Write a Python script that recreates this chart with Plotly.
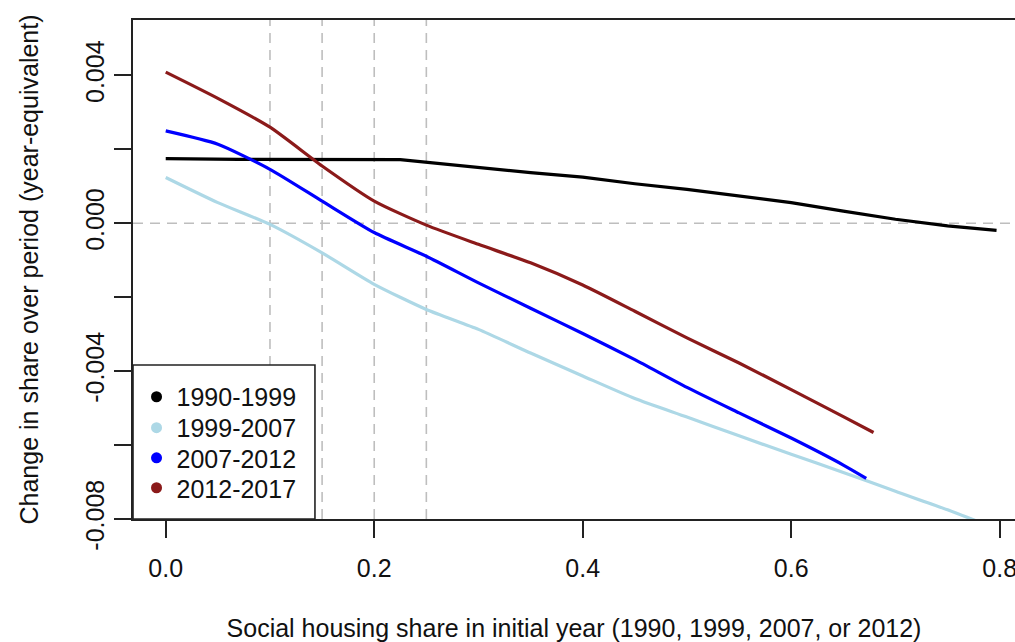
import plotly.graph_objects as go

# ---- data ----
x_1990 = [0.0, 0.065, 0.07, 0.225, 0.25, 0.3, 0.35, 0.4, 0.45, 0.5, 0.55, 0.6, 0.65, 0.7, 0.75, 0.797]
y_1990 = [0.00175, 0.00175, 0.00173, 0.00172, 0.00165, 0.00149, 0.00137, 0.00125, 0.00107, 0.00092,
          0.00074, 0.00056, 0.00033, 0.00011, -0.00007, -0.00019]

x_1999 = [0.0, 0.05, 0.1, 0.15, 0.2, 0.25, 0.3, 0.35, 0.4, 0.45, 0.5, 0.55, 0.6, 0.65, 0.7, 0.75, 0.8]
y_1999 = [0.00124, 0.00056, -0.00003, -0.0008, -0.00165, -0.00233, -0.00287, -0.00351, -0.00413,
          -0.00474, -0.00524, -0.00575, -0.00625, -0.00674, -0.00725, -0.00775, -0.0083]

x_2007 = [0.0, 0.05, 0.1, 0.15, 0.2, 0.25, 0.3, 0.35, 0.4, 0.45, 0.5, 0.55, 0.6, 0.65, 0.672]
y_2007 = [0.0025, 0.00214, 0.00146, 0.0006, -0.00025, -0.00089, -0.00161, -0.0023, -0.00298,
          -0.00369, -0.00444, -0.00513, -0.00581, -0.00654, -0.0069]

x_2012 = [0.0, 0.05, 0.1, 0.15, 0.2, 0.25, 0.3, 0.35, 0.4, 0.45, 0.5, 0.55, 0.6, 0.65, 0.679]
y_2012 = [0.00409, 0.00338, 0.0026, 0.00155, 0.0006, -0.00005, -0.00057, -0.00107, -0.00167,
          -0.00238, -0.0031, -0.00378, -0.0045, -0.00523, -0.00566]

series_names = ["1990-1999", "1999-2007", "2007-2012", "2012-2017"]
series_colors = ["#000000", "#ADD8E6", "#0000FF", "#8B1A1A"]
ref_x = [0.1, 0.15, 0.2, 0.25]
ref_y = [0.0]

x_ticks = [0.0, 0.2, 0.4, 0.6, 0.8]
x_ticklabels = ["0.0", "0.2", "0.4", "0.6", "0.8"]
y_ticks = [-0.008, -0.006, -0.004, -0.002, 0.0, 0.002, 0.004]
y_ticklabels = ["-0.008", "", "-0.004", "", "0.000", "", "0.004"]

FONT = "Liberation Sans, Arial, sans-serif"
FS = 25

fig = go.Figure()
xs = [x_1990, x_1999, x_2007, x_2012]
ys = [y_1990, y_1999, y_2007, y_2012]
for i, (xv, yv) in enumerate(zip(xs, ys)):
    fig.add_trace(go.Scatter(
        x=xv, y=yv, mode="lines",
        line=dict(color=series_colors[i], width=3.2,
                  shape="linear" if i == 0 else "spline", smoothing=0.6),
        showlegend=False, hoverinfo="skip"))

# legend entries (one legend per entry to match spacing)
leg_y = [0.2445, 0.1824, 0.1222, 0.0621]
legend_keys = ["legend", "legend2", "legend3", "legend4"]
for i, name in enumerate(series_names):
    fig.add_trace(go.Scatter(
        x=[None], y=[None], mode="markers", name=name,
        marker=dict(color=series_colors[i], size=11, symbol="circle"),
        legend=legend_keys[i], showlegend=True))

shapes = []
for xv in ref_x:
    shapes.append(dict(type="line", xref="x", yref="paper", x0=xv, x1=xv, y0=0, y1=1,
                       line=dict(color="#BEBEBE", width=1.6, dash="10px,7px"), layer="below"))
for yv in ref_y:
    shapes.append(dict(type="line", xref="paper", yref="y", x0=0, x1=1, y0=yv, y1=yv,
                       line=dict(color="#BEBEBE", width=1.6, dash="10px,7px"), layer="below"))
# legend box
shapes.append(dict(type="rect", xref="paper", yref="paper", x0=0, x1=0.2063, y0=0, y1=0.3086,
                   fillcolor="white", line=dict(color="#222222", width=1.6), layer="below"))

layout_legends = {}
for i, key in enumerate(legend_keys):
    layout_legends[key] = dict(
        x=0.004, y=leg_y[i], xanchor="left", yanchor="middle",
        bgcolor="rgba(0,0,0,0)", borderwidth=0,
        font=dict(family=FONT, size=FS, color="#111111"),
        itemwidth=30)

fig.update_layout(
    width=1015, height=642,
    margin=dict(l=133, r=0, t=20, b=123),
    paper_bgcolor="white", plot_bgcolor="white",
    font=dict(family=FONT, size=FS, color="#111111"),
    shapes=shapes,
    xaxis=dict(
        range=[-0.0314, 0.8147], tickvals=x_ticks, ticktext=x_ticklabels,
        ticks="outside", ticklen=17, tickwidth=1.6, tickcolor="#222222",
        showline=True, linecolor="#222222", linewidth=1.6, mirror=True,
        showgrid=False, zeroline=False, automargin=False,
        ticklabeloverflow="allow", ticklabelstandoff=9,
        tickfont=dict(family=FONT, size=FS, color="#111111"),
        title=dict(text="Social housing share in initial year (1990, 1999, 2007, or 2012)",
                   font=dict(family=FONT, size=FS, color="#111111"), standoff=45),
    ),
    yaxis=dict(
        range=[-0.008, 0.0055], tickvals=y_ticks, ticktext=y_ticklabels,
        ticks="outside", ticklen=17, tickwidth=1.6, tickcolor="#222222",
        showline=True, linecolor="#222222", linewidth=1.6, mirror=False,
        showgrid=False, zeroline=False, tickangle=-90, automargin=False,
        ticklabeloverflow="allow",
        tickfont=dict(family=FONT, size=FS, color="#111111"),
        title=dict(text="Change in share over period (year-equivalent)",
                   font=dict(family=FONT, size=FS, color="#111111"), standoff=35),
    ),
    **layout_legends,
)

# remove the default page margin so the 1015x642 figure fills the window exactly
fig.write_html("out.html",
               config={"displayModeBar": False},
               post_script="document.body.style.margin='0';document.body.style.overflow='hidden';")
